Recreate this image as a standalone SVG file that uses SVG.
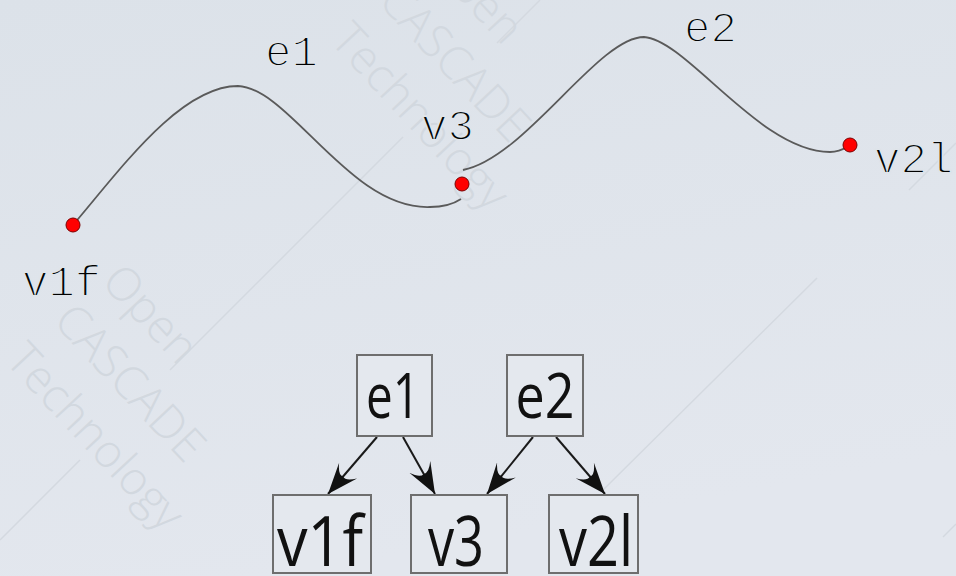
<svg xmlns="http://www.w3.org/2000/svg" width="956" height="576" viewBox="0 0 956 576">
  <defs>
    <linearGradient id="bg" x1="0" y1="0" x2="0.3" y2="1">
      <stop offset="0" stop-color="#dce2e9"/>
      <stop offset="1" stop-color="#e3e7ee"/>
    </linearGradient>
    <marker id="arrow" markerUnits="userSpaceOnUse" markerWidth="34" markerHeight="26" refX="31" refY="12" orient="auto">
      <path d="M31,12 L0,0 Q10,7 8,12 Q10,17 0,24 Z" fill="#111"/>
    </marker>
    <style>
      .wm { font-family: "Open Sans", "Liberation Sans", sans-serif; font-weight: 300; font-size: 46px; fill: #d2d8df; }
      .wmline { stroke: #d4d9e0; stroke-width: 1.5; fill: none; }
      .curve { fill: none; stroke: #5a5a5a; stroke-width: 1.8; }
      .vertex { fill: #ff0000; stroke: #7a0000; stroke-width: 1; }
      .label { font-family: "Liberation Mono", "DejaVu Sans Mono", monospace; font-size: 44px; fill: #000; stroke: #dfe4ea; stroke-width: 1.8; }
      .box { fill: #e4e8ee; stroke: #6e6e6e; stroke-width: 2; }
      .boxtext { font-family: "Open Sans", "Liberation Sans", sans-serif; fill: #111; text-anchor: middle; }
      .edge { stroke: #1a1a1a; stroke-width: 2; fill: none; marker-end: url(#arrow); }
    </style>
  </defs>

  <rect width="956" height="576" fill="url(#bg)"/>

  <!-- background watermark -->
  <g id="watermark">
    <path class="wmline" d="M0,540 L80,460 M170,370 L403,137 M497,43 L540,0"/>
    <path class="wmline" d="M603,490 L817,278 M909,190 L956,143"/>
    <path class="wmline" d="M943,537 L956,524"/>
    <g transform="translate(52,322) rotate(47)">
      <text class="wm" x="4" y="-62">Open</text>
      <text class="wm" x="0" y="0">CASCADE</text>
      <text class="wm" x="-4" y="62">Technology</text>
    </g>
    <g transform="translate(377,2) rotate(47)">
      <text class="wm" x="4" y="-62">Open</text>
      <text class="wm" x="0" y="0">CASCADE</text>
      <text class="wm" x="-4" y="62">Technology</text>
    </g>
  </g>

  <!-- geometry: two edges sharing vertex v3 -->
  <g id="geometry">
    <path id="curve-e1" class="curve" d="M73,225 C120,170 180,86 238,86 C290,88 350,210 430,207 C445,207 455,203 461,199"/>
    <path id="curve-e2" class="curve" d="M463,170 C525,158 598,37 644,37 C687,40 760,152 830,152 C840,152 845,148 850,145"/>
    <circle id="pt-v1f" class="vertex" cx="73" cy="225" r="7"/>
    <circle id="pt-v3" class="vertex" cx="462" cy="184" r="7"/>
    <circle id="pt-v2l" class="vertex" cx="850" cy="145" r="7"/>
    <text class="label" x="265" y="66">e1</text>
    <text class="label" x="684" y="42">e2</text>
    <text class="label" x="421" y="140">v3</text>
    <text class="label" x="22" y="296">v1f</text>
    <text class="label" x="874" y="173">v2l</text>
  </g>

  <!-- topology graph connectors -->
  <g id="connectors">
    <line class="edge" x1="377" y1="437" x2="328" y2="494"/>
    <line class="edge" x1="403" y1="437" x2="435" y2="494"/>
    <line class="edge" x1="533" y1="437" x2="487" y2="494"/>
    <line class="edge" x1="556" y1="437" x2="605" y2="494"/>
  </g>

  <g id="node-e1">
    <rect class="box" x="357" y="355" width="75" height="81"/>
    <text class="boxtext" x="393" y="418" font-size="62" textLength="54" lengthAdjust="spacingAndGlyphs">e1</text>
  </g>
  <g id="node-e2">
    <rect class="box" x="507" y="355" width="76" height="81"/>
    <text class="boxtext" x="545" y="418" font-size="62" textLength="59" lengthAdjust="spacingAndGlyphs">e2</text>
  </g>
  <g id="node-v1f">
    <rect class="box" x="273" y="495" width="98" height="78"/>
    <text class="boxtext" x="320" y="566" font-size="70" textLength="86" lengthAdjust="spacingAndGlyphs">v1f</text>
  </g>
  <g id="node-v3">
    <rect class="box" x="411" y="495" width="96" height="78"/>
    <text class="boxtext" x="456" y="566" font-size="70" textLength="56" lengthAdjust="spacingAndGlyphs">v3</text>
  </g>
  <g id="node-v2l">
    <rect class="box" x="549" y="495" width="89" height="78"/>
    <text class="boxtext" x="596" y="566" font-size="70" textLength="74" lengthAdjust="spacingAndGlyphs">v2l</text>
  </g>
</svg>
